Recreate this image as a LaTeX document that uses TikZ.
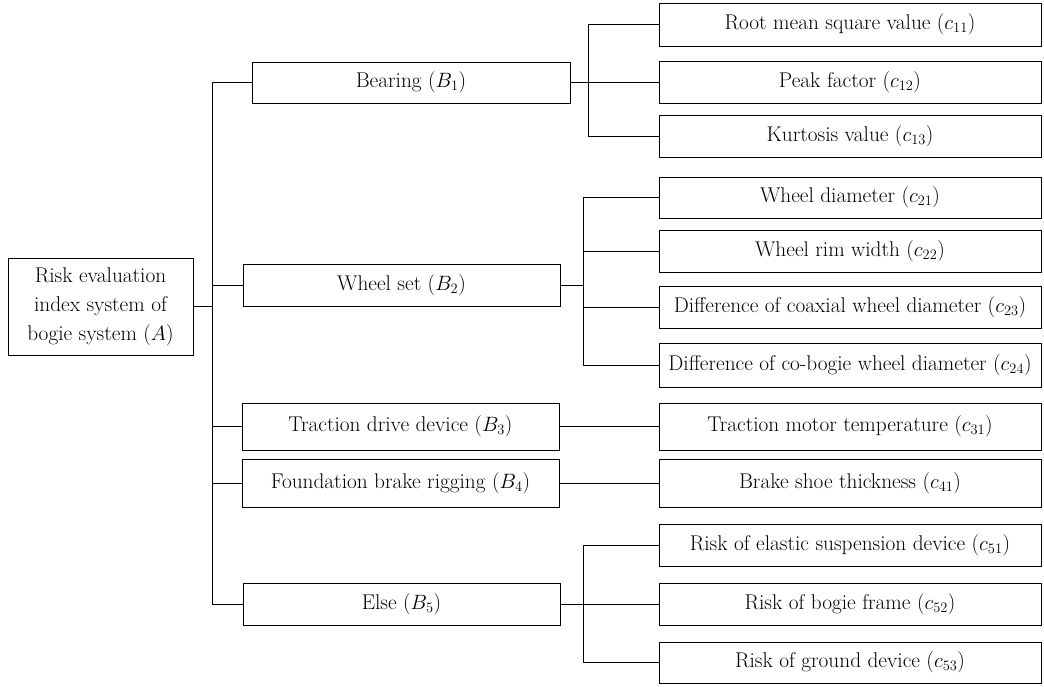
\documentclass[tikz,border=0pt]{standalone}
\begin{document}
\begin{tikzpicture}[x=1pt,y=-1pt,
  box/.style={draw,line width=1pt,inner sep=0pt,align=center,font=\fontsize{21.3}{29}\selectfont},
  cbox/.style={box,minimum width=382pt},
  bbox/.style={box,minimum width=317pt},
  link/.style={line width=1pt}]
\useasboundingbox (0,0) rectangle (1044,686);
% root
\node[box,minimum width=185pt,minimum height=97pt] (A) at (100.5,306.5) {Risk evaluation\\index system of\\bogie system ($A$)};
% level B
\node[box,minimum width=318pt,minimum height=41pt] (B1) at (411,82.5) {Bearing ($B_1$)};
\node[bbox,minimum height=42pt] (B2) at (401.5,285) {Wheel set ($B_2$)};
\node[bbox,minimum height=47pt] (B3) at (400.5,426.5) {Traction drive device ($B_3$)};
\node[bbox,minimum height=48pt] (B4) at (400.5,483) {Foundation brake rigging ($B_4$)};
\node[bbox,minimum height=42pt] (B5) at (401.5,604) {Else ($B_5$)};
% level C
\node[cbox,minimum height=43pt] (C11) at (850,24.5) {Root mean square value ($c_{11}$)};
\node[cbox,minimum height=42pt] (C12) at (850,82.5) {Peak factor ($c_{12}$)};
\node[cbox,minimum height=42pt] (C13) at (850,136) {Kurtosis value ($c_{13}$)};
\node[cbox,minimum height=41pt] (C21) at (850,197.5) {Wheel diameter ($c_{21}$)};
\node[cbox,minimum height=42pt] (C22) at (850,251) {Wheel rim width ($c_{22}$)};
\node[cbox,minimum height=42pt] (C23) at (850,307) {Difference of coaxial wheel diameter ($c_{23}$)};
\node[cbox,minimum height=44pt] (C24) at (850,365) {Difference of co-bogie wheel diameter ($c_{24}$)};
\node[cbox,minimum height=47pt] (C31) at (850,426.5) {Traction motor temperature ($c_{31}$)};
\node[cbox,minimum height=48pt] (C41) at (850,483) {Brake shoe thickness ($c_{41}$)};
\node[cbox,minimum height=42pt] (C51) at (850,545) {Risk of elastic suspension device ($c_{51}$)};
\node[cbox,minimum height=42pt] (C52) at (850,604) {Risk of bogie frame ($c_{52}$)};
\node[cbox,minimum height=41pt] (C53) at (850,662.5) {Risk of ground device ($c_{53}$)};
% trunk coordinates
\coordinate (T) at (212,0);
\coordinate (S1) at (588,0);
\coordinate (S2) at (583,0);
\coordinate (S5) at (583,0);
% main trunk
\draw[link] (B1.west) -- (B1.west -| T) -- (B5.west -| T) -- (B5.west);
\draw[link] (A.east) -- (A.east -| T);
\draw[link] (B2.west) -- (B2.west -| T);
\draw[link] (B3.west) -- (B3.west -| T);
\draw[link] (B4.west) -- (B4.west -| T);
% bearing
\draw[link] (C11.west) -- (C11.west -| S1) -- (C13.west -| S1) -- (C13.west);
\draw[link] (B1.east) -- (C12.west);
% wheel set
\draw[link] (C21.west) -- (C21.west -| S2) -- (C24.west -| S2) -- (C24.west);
\draw[link] (B2.east) -- (B2.east -| S2);
\draw[link] (C22.west) -- (C22.west -| S2);
\draw[link] (C23.west) -- (C23.west -| S2);
% traction, brake
\draw[link] (B3.east) -- (C31.west);
\draw[link] (B4.east) -- (C41.west);
% else
\draw[link] (C51.west) -- (C51.west -| S5) -- (C53.west -| S5) -- (C53.west);
\draw[link] (B5.east) -- (C52.west);
\end{tikzpicture}
\end{document}
